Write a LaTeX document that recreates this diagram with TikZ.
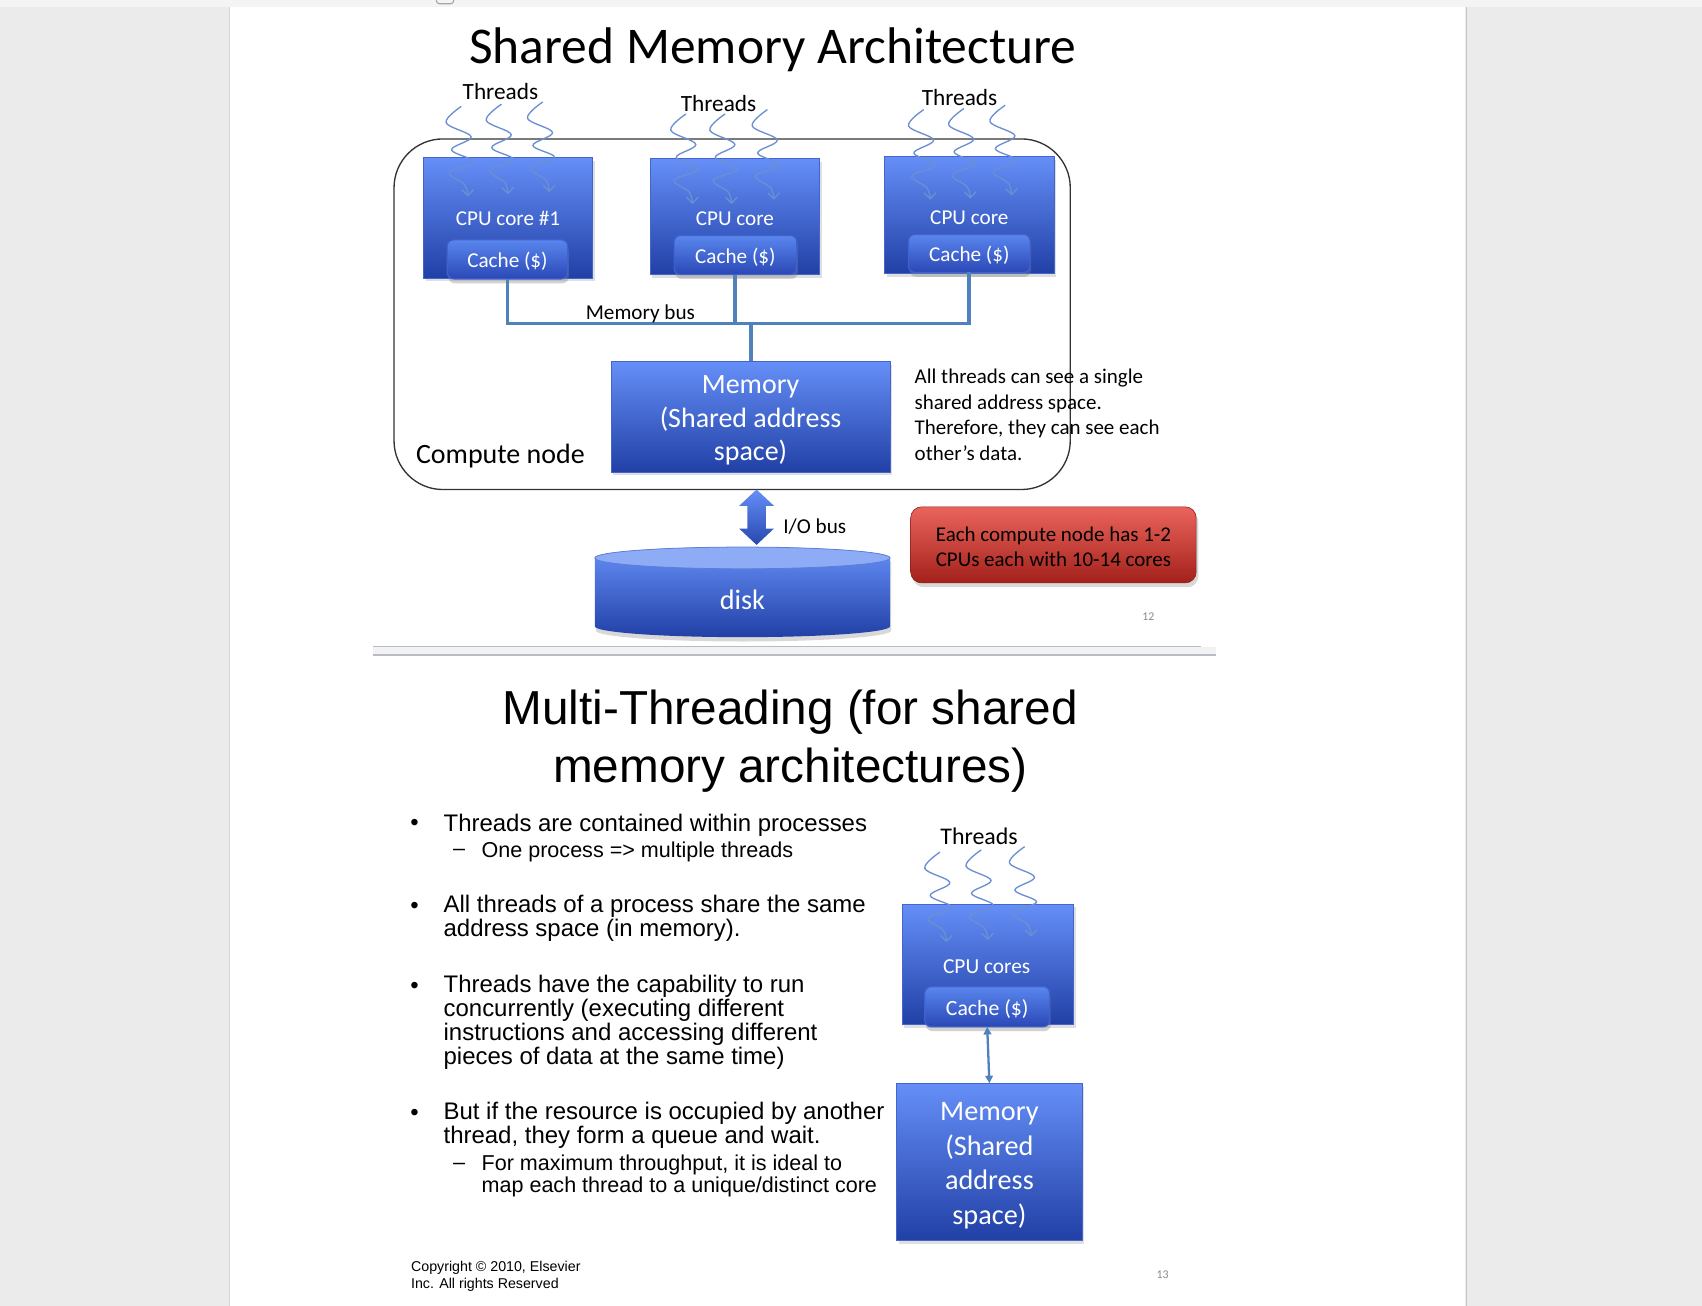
\documentclass[tikz,border=0pt]{standalone}
\usepackage{fontspec}
\setmainfont{Carlito}
\newfontfamily\arialf{Liberation Sans}
\usetikzlibrary{arrows.meta,shadows}
\definecolor{bgray}{HTML}{EBEBEB}
\definecolor{stripc}{HTML}{F4F4F4}
\definecolor{edgec}{HTML}{C6C6C6}
\definecolor{btop}{HTML}{658FF7}
\definecolor{bbot}{HTML}{2140A6}
\definecolor{bedge}{HTML}{4466CC}
\definecolor{ctop}{HTML}{5A86EE}
\definecolor{cbot}{HTML}{2A48B6}
\definecolor{cedge}{HTML}{3F62CF}
\definecolor{busc}{HTML}{4F81BD}
\definecolor{thrc}{HTML}{6B8FD3}
\definecolor{rtop}{HTML}{EA645C}
\definecolor{rbot}{HTML}{A3211B}
\definecolor{disktop}{HTML}{8EABF5}
\definecolor{diskedge}{HTML}{5C7DD8}
\definecolor{sepc}{HTML}{B8BCC4}
\definecolor{sepband}{HTML}{F2F2F2}
\definecolor{pgnum}{HTML}{8A8A8A}
\newcommand{\fz}[2]{\fontsize{#1}{#2}\selectfont}
\begin{document}
\begin{tikzpicture}[x=0.1mm, y=-0.1mm,
  cpubox/.style={rectangle, inner sep=0pt, outer sep=0pt, top color=btop, bottom color=bbot, draw=bedge, line width=0.15pt, drop shadow={opacity=0.25, shadow xshift=0.2mm, shadow yshift=-0.3mm}},
  cachebox/.style={rectangle, rounded corners=0.6mm, inner sep=0pt, outer sep=0pt, top color=ctop, bottom color=cbot, draw=cedge, line width=0.3pt, drop shadow={opacity=0.35, shadow xshift=0.1mm, shadow yshift=-0.4mm}},
  redbox/.style={rectangle, rounded corners=1mm, inner sep=0pt, outer sep=0pt, top color=rtop, bottom color=rbot, draw=rbot!85!black, line width=0.15pt, drop shadow={opacity=0.3, shadow xshift=0.2mm, shadow yshift=-0.4mm}},
  wlbl/.style={text=white, inner sep=0pt},
  blk/.style={text=black, inner sep=0pt},
  thr/.style={draw=thrc, line width=0.35pt, -{Straight Barb[length=0.55mm, width=1.1mm]}},
  bus/.style={draw=busc, line width=1pt},
  threadw/.pic={\draw[thr] plot[smooth, tension=0.6] coordinates {(0,0) (-14,15) (9,28) (-9,40) (11,51) (-11,61) (3,72) (6,83)};},
]
\useasboundingbox (0,0) rectangle (1568,1203);
% page background
\fill[bgray] (0,0) rectangle (1568,1203);
\fill[white] (212,6) rectangle (1350,1203);
\fill[stripc] (0,0) rectangle (1568,6);
\draw[edgec, line width=0.5pt] (1351,6) -- (1351,1203);
\draw[edgec!70, line width=0.3pt] (211.5,6) -- (211.5,1203);
\draw[gray!70, line width=0.3pt, rounded corners=0.3mm] (402,-3) rectangle (418,3.5);

% ---------------- top slide ----------------
\node[blk, font=\fz{13.5pt}{16pt}] (title1) at (712,46) {Shared Memory Architecture};

\node[draw=black!80, line width=0.35pt, rounded corners=4.5mm, minimum width=62.3mm, minimum height=32.3mm, inner sep=0pt, outer sep=0pt] (cnode) at (674.5,289.5) {};

\node[blk, font=\fz{6.1pt}{7pt}] (th1) at (461,84) {Threads};
\node[blk, font=\fz{6.1pt}{7pt}] (th2) at (662,95) {Threads};
\node[blk, font=\fz{6.1pt}{7pt}] (th3) at (884,90) {Threads};

\node[cpubox, minimum width=15.6mm, minimum height=11.1mm] (cpu1) at (468,200.5) {};
\node[cpubox, minimum width=15.6mm, minimum height=10.7mm] (cpu2) at (677,199.5) {};
\node[cpubox, minimum width=15.6mm, minimum height=10.8mm] (cpu3) at (893,198) {};

\node[wlbl, font=\fz{5.55pt}{6.6pt}] (l1) at (468,201.5) {CPU core \#1};
\node[wlbl, font=\fz{5.55pt}{6.6pt}] (l2) at (677,201.5) {CPU core};
\node[wlbl, font=\fz{5.55pt}{6.6pt}] (l3) at (893,200.5) {CPU core};

\node[cachebox, minimum width=11.1mm, minimum height=3.6mm] (cache1) at (467.5,239) {};
\node[cachebox, minimum width=11.3mm, minimum height=3.6mm] (cache2) at (677.5,235) {};
\node[cachebox, minimum width=11.2mm, minimum height=3.5mm] (cache3) at (893,233.5) {};
\node[wlbl, font=\fz{5.55pt}{6.6pt}] (c1t) at (467.5,241) {Cache (\$)};
\node[wlbl, font=\fz{5.55pt}{6.6pt}] (c2t) at (677.5,237) {Cache (\$)};
\node[wlbl, font=\fz{5.55pt}{6.6pt}] (c3t) at (893,235.5) {Cache (\$)};

\pic at (425,98) {threadw}; \pic at (462,96) {threadw}; \pic at (500,94) {threadw};
\pic at (632,105) {threadw}; \pic at (668,105) {threadw}; \pic at (707,101) {threadw};
\pic at (851,101) {threadw}; \pic at (888,100) {threadw}; \pic at (926,97) {threadw};

\node[cpubox, minimum width=25.7mm, minimum height=10.2mm] (mem) at (691.5,384) {};
\node[wlbl, align=center, font=\fz{7.33pt}{8.8pt}] (memt) at (691.5,387.5) {Memory\\(Shared address\\space)};

\coordinate (busy) at (0,298);
\draw[bus] (cache1.south) -- (cache1.south |- busy) -- (cache3.south |- busy) -- (cache3.south);
\draw[bus] (cache2.south) -- (cache2.south |- busy);
\draw[bus] (mem.north) -- (mem.north |- busy);
\node[blk, font=\fz{5.55pt}{6.6pt}] (mbus) at (590,289) {Memory bus};

\node[blk, font=\fz{7.33pt}{8.8pt}] (cnl) at (461,420) {Compute node};

\node[blk, align=left, anchor=west, font=\fz{5.5pt}{6.69pt}] (side) at (842,382) {All threads can see a single\\shared address space.\\Therefore, they can see each\\other’s data.};

% I/O bus arrow
\path[top color=btop, bottom color=bbot!90!btop] (697,451) -- (713,466) -- (705.5,466) -- (705.5,487) -- (713,487) -- (697,502) -- (681,487) -- (688.5,487) -- (688.5,466) -- (681,466) -- cycle;
\node[blk, anchor=west, font=\fz{5.55pt}{6.6pt}] (iol) at (721,485.5) {I/O bus};

% disk
\path[top color=btop, bottom color=bbot, drop shadow={opacity=0.3, shadow xshift=0.1mm, shadow yshift=-0.4mm}] (548,514) -- (548,577) arc[start angle=180, end angle=360, x radius=13.6mm, y radius=1mm] -- (820,514) arc[start angle=0, end angle=180, x radius=13.6mm, y radius=1mm] -- cycle;
\path[fill=disktop, draw=diskedge, line width=0.2pt] (684,514) ellipse [x radius=13.6mm, y radius=1mm];
\node[wlbl, font=\fz{7.4pt}{8.8pt}] (disk) at (684,552.5) {disk};

\node[redbox, minimum width=26.3mm, minimum height=7mm] (note) at (970.5,502) {};
\node[blk, align=center, font=\fz{5.5pt}{6.55pt}] (notet) at (970.5,503.5) {Each compute node has 1-2\\CPUs each with 10-14 cores};

\node[text=pgnum, inner sep=0pt, font=\fz{3.1pt}{4pt}] (pg12) at (1058,568.5) {12};

% separator
\fill[sepband] (344,596) rectangle (1120,603);
\draw[sepc, line width=0.35pt] (344,595.5) -- (1106,595.5);
\draw[sepc, line width=0.35pt] (344,603.5) -- (1120,603.5);

% ---------------- bottom slide ----------------
\node[blk, align=center, font={\arialf\fz{12.5pt}{15.08pt}}] (title2) at (728,683) {Multi-Threading (for shared\\memory architectures)};

\node[blk, font={\arialf\fz{6.28pt}{6.26pt}}] (bu1) at (382,760) {•};
\node[blk, anchor=west, font={\arialf\fz{6.28pt}{6.26pt}}] (p1) at (408,760) {Threads are contained within processes};
\node[blk, font={\arialf\fz{5.65pt}{5.7pt}}] (da1) at (423,785) {–};
\node[blk, anchor=west, font={\arialf\fz{5.65pt}{5.7pt}}] (s1) at (443,785) {One process => multiple threads};

\node[blk, font={\arialf\fz{6.28pt}{6.26pt}}] (bu2) at (382,836.5) {•};
\node[blk, anchor=west, align=left, font={\arialf\fz{6.28pt}{6.26pt}}] (p2) at (408,846) {All threads of a process share the same\\address space (in memory).};

\node[blk, font={\arialf\fz{6.28pt}{6.26pt}}] (bu3) at (382,910.5) {•};
\node[blk, anchor=west, align=left, font={\arialf\fz{6.28pt}{6.26pt}}] (p3) at (408,942) {Threads have the capability to run\\concurrently (executing different\\instructions and accessing different\\pieces of data at the same time)};

\node[blk, font={\arialf\fz{6.28pt}{6.26pt}}] (bu4) at (382,1027.5) {•};
\node[blk, anchor=west, align=left, font={\arialf\fz{6.28pt}{6.26pt}}] (p4) at (408,1037) {But if the resource is occupied by another\\thread, they form a queue and wait.};
\node[blk, font={\arialf\fz{5.65pt}{5.7pt}}] (da2) at (423,1075) {–};
\node[blk, anchor=west, align=left, font={\arialf\fz{5.65pt}{5.7pt}}] (s2) at (443,1083.5) {For maximum throughput, it is ideal to\\map each thread to a unique/distinct core};

\node[blk, anchor=west, align=left, font={\arialf\fz{3.73pt}{4.55pt}}] (copy) at (378,1176) {Copyright © 2010, Elsevier\\Inc. All rights Reserved};
\node[text=pgnum, inner sep=0pt, font=\fz{3.1pt}{4pt}] (pg13) at (1071,1174.5) {13};

% right diagram
\node[blk, font=\fz{6.26pt}{7pt}] (th4) at (902,770.5) {Threads};
\node[cpubox, minimum width=15.8mm, minimum height=11.1mm] (cpu4) at (910,888.5) {};
\node[wlbl, font=\fz{5.6pt}{6.6pt}] (l4) at (909,890.5) {CPU cores};
\node[cachebox, minimum width=11.5mm, minimum height=3.7mm] (cache4) at (909.5,927.5) {};
\node[wlbl, font=\fz{5.7pt}{6.6pt}] (c4t) at (909.5,929.5) {Cache (\$)};
\pic at (866,785) {threadw}; \pic at (904,783) {threadw}; \pic at (944,780) {threadw};
\node[cpubox, minimum width=17.1mm, minimum height=14.5mm] (mem2) at (911.5,1070.5) {};
\node[wlbl, align=center, font=\fz{7.4pt}{9.1pt}] (mem2t) at (911.5,1074) {Memory\\(Shared\\address\\space)};
\draw[busc, line width=0.6pt, {Triangle[length=0.7mm,width=0.7mm]}-{Triangle[length=0.7mm,width=0.7mm]}] (cache4.south) -- (mem2.north);
\end{tikzpicture}
\end{document}
